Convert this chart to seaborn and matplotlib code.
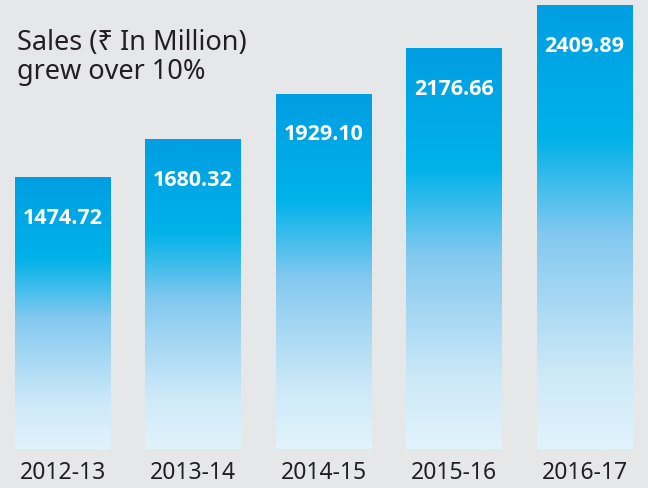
import numpy as np
import pandas as pd
import matplotlib
matplotlib.use("Agg")
import matplotlib.pyplot as plt
from matplotlib.colors import LinearSegmentedColormap
import seaborn as sns

# chart data
years = ["2012-13", "2013-14", "2014-15", "2015-16", "2016-17"]
sales = [1474.72, 1680.32, 1929.10, 2176.66, 2409.89]
value_labels = ["1474.72", "1680.32", "1929.10", "2176.66", "2409.89"]

df = pd.DataFrame({"year": years, "sales": sales})

sns.set_style("white")
plt.rcParams["font.family"] = ["Noto Sans", "DejaVu Sans"]

bg = "#e6e7e8"
fig = plt.figure(figsize=(6.48, 4.89), dpi=100, facecolor=bg)
ax = fig.add_axes([0, 39 / 489, 1, 450 / 489])
ax.set_facecolor(bg)

sns.barplot(data=df, x="year", y="sales", ax=ax, width=0.73,
            color="#00a3e0", saturation=1)

# gradient: solid blue at top, fading to pale blue at the bottom
grad = LinearSegmentedColormap.from_list("bar_grad", [
    (0.0, "#009ee2"),
    (0.30, "#00b2e9"),
    (0.52, "#84c9f0"),
    (0.83, "#cde9f8"),
    (1.0, "#e1f3fc"),
])
column = np.linspace(0, 1, 256).reshape(-1, 1)
for patch in ax.patches:
    x0 = patch.get_x()
    w = patch.get_width()
    h = patch.get_height()
    patch.set_facecolor("none")
    patch.set_edgecolor("none")
    img = ax.imshow(column, cmap=grad, aspect="auto", origin="upper",
                    extent=[x0, x0 + w, 0, h], zorder=2)
    img.set_clip_path(patch)

for i, (v, lab) in enumerate(zip(sales, value_labels)):
    ax.annotate(lab, (i, v), xytext=(0, -29), textcoords="offset points",
                ha="center", va="center", color="white",
                fontsize=15.5, fontweight="bold", family=["Open Sans", "DejaVu Sans"],
                zorder=3)

ax.set_xlim(-0.479, 4.487)
ax.set_ylim(0, 2442)
ax.set_xlabel("")
ax.set_ylabel("")
ax.set_yticks([])
ax.tick_params(axis="x", length=0, pad=8, labelsize=16.5, labelcolor="#231f20")
sns.despine(ax=ax, left=True, bottom=True)

fig.text(17 / 648, 1 - 29 / 489, "Sales (₹ In Million)\ngrew over 10%",
         ha="left", va="top", fontsize=19.5, color="#231f20", linespacing=1.05)

fig.savefig("out.png", dpi=100, facecolor=bg)
